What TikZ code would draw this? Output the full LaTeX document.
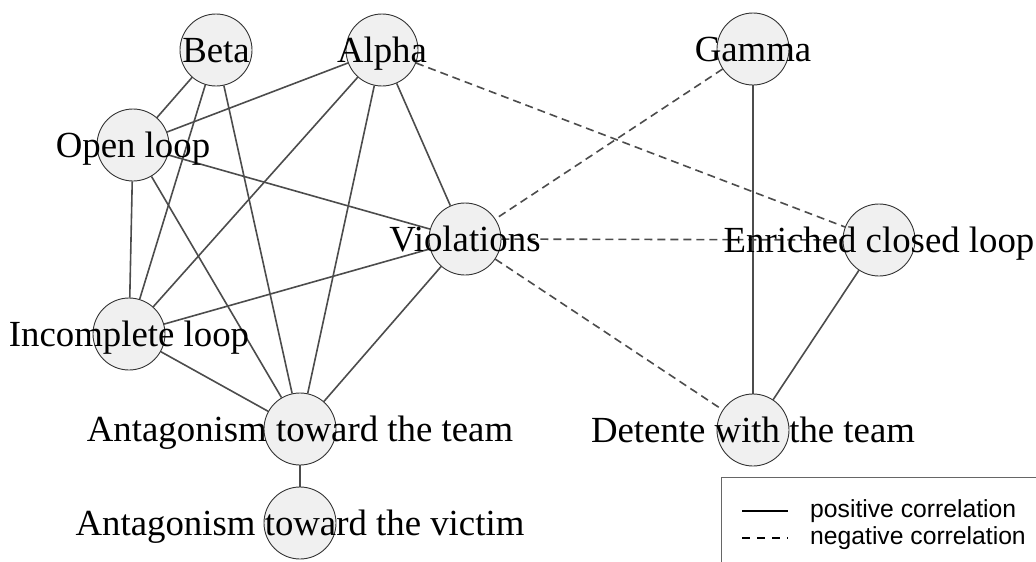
\documentclass[tikz,border=0pt]{standalone}
\usepackage{fontspec}
\setmainfont{Liberation Serif}
\newfontfamily\legendfont{Liberation Sans}
\usetikzlibrary{backgrounds}
\tikzset{
  vtx/.style={circle,draw=black!80,fill=black!6,line width=0.9pt,minimum size=72pt,inner sep=0pt},
  vlbl/.style={font=\fontsize{36.8}{40}\selectfont,text height=25pt,text depth=0pt,inner sep=0pt},
  poscor/.style={draw=black!70,line width=1.6pt},
  negcor/.style={poscor,dash pattern=on 8pt off 5pt},
  lgdtxt/.style={font=\legendfont\fontsize{24.7}{28}\selectfont,anchor=base west,inner sep=0pt}
}
\begin{document}
\begin{tikzpicture}[x=1pt,y=-1pt]
\useasboundingbox (0,0) rectangle (1036,562);
\clip (0,0) rectangle (1036,562);
\node[vtx,label={[vlbl]center:Beta}] (beta) at (216,50) {};
\node[vtx,label={[vlbl]center:Alpha}] (alpha) at (382,50) {};
\node[vtx,label={[vlbl]center:Gamma}] (gamma) at (753,49) {};
\node[vtx,label={[vlbl]center:Open loop}] (openloop) at (133,145) {};
\node[vtx,label={[vlbl]center:Violations}] (violations) at (465,239) {};
\node[vtx,label={[vlbl]center:Enriched closed loop}] (enriched) at (879,240) {};
\node[vtx,label={[vlbl]center:Incomplete loop}] (incomplete) at (129,334) {};
\node[vtx,label={[vlbl]center:Antagonism toward the team}] (antteam) at (300,429) {};
\node[vtx,label={[vlbl]center:Detente with the team}] (detente) at (753,430) {};
\node[vtx,label={[vlbl]center:Antagonism toward the victim}] (antvictim) at (300,523) {};
\begin{pgfonlayer}{background}
\draw[poscor] (beta) -- (openloop);
\draw[poscor] (beta) -- (incomplete);
\draw[poscor] (beta) -- (antteam);
\draw[poscor] (alpha) -- (openloop);
\draw[poscor] (alpha) -- (incomplete);
\draw[poscor] (alpha) -- (antteam);
\draw[poscor] (alpha) -- (violations);
\draw[poscor] (openloop) -- (violations);
\draw[poscor] (openloop) -- (incomplete);
\draw[poscor] (openloop) -- (antteam);
\draw[poscor] (violations) -- (incomplete);
\draw[poscor] (violations) -- (antteam);
\draw[poscor] (incomplete) -- (antteam);
\draw[poscor] (antteam) -- (antvictim);
\draw[poscor] (gamma) -- (detente);
\draw[poscor] (enriched) -- (detente);
\draw[negcor] (alpha) -- (enriched);
\draw[negcor] (gamma) -- (violations);
\draw[negcor] (violations) -- (enriched);
\draw[negcor] (violations) -- (detente);
\end{pgfonlayer}
\draw[draw=black!60,line width=1pt] (721,477) rectangle (1040,566);
\coordinate (posa) at (742,511);
\coordinate (posb) at (788,511);
\coordinate (nega) at (742,538);
\coordinate (negb) at (788,538);
\draw[line width=1.2pt] (posa) -- (posb);
\draw[line width=1.2pt,dash pattern=on 8pt off 7pt] (nega) -- (negb);
\node[lgdtxt] (postxt) at (810,517.5) {positive correlation};
\node[lgdtxt] (negtxt) at (810,544.5) {negative correlation};
\end{tikzpicture}
\end{document}
